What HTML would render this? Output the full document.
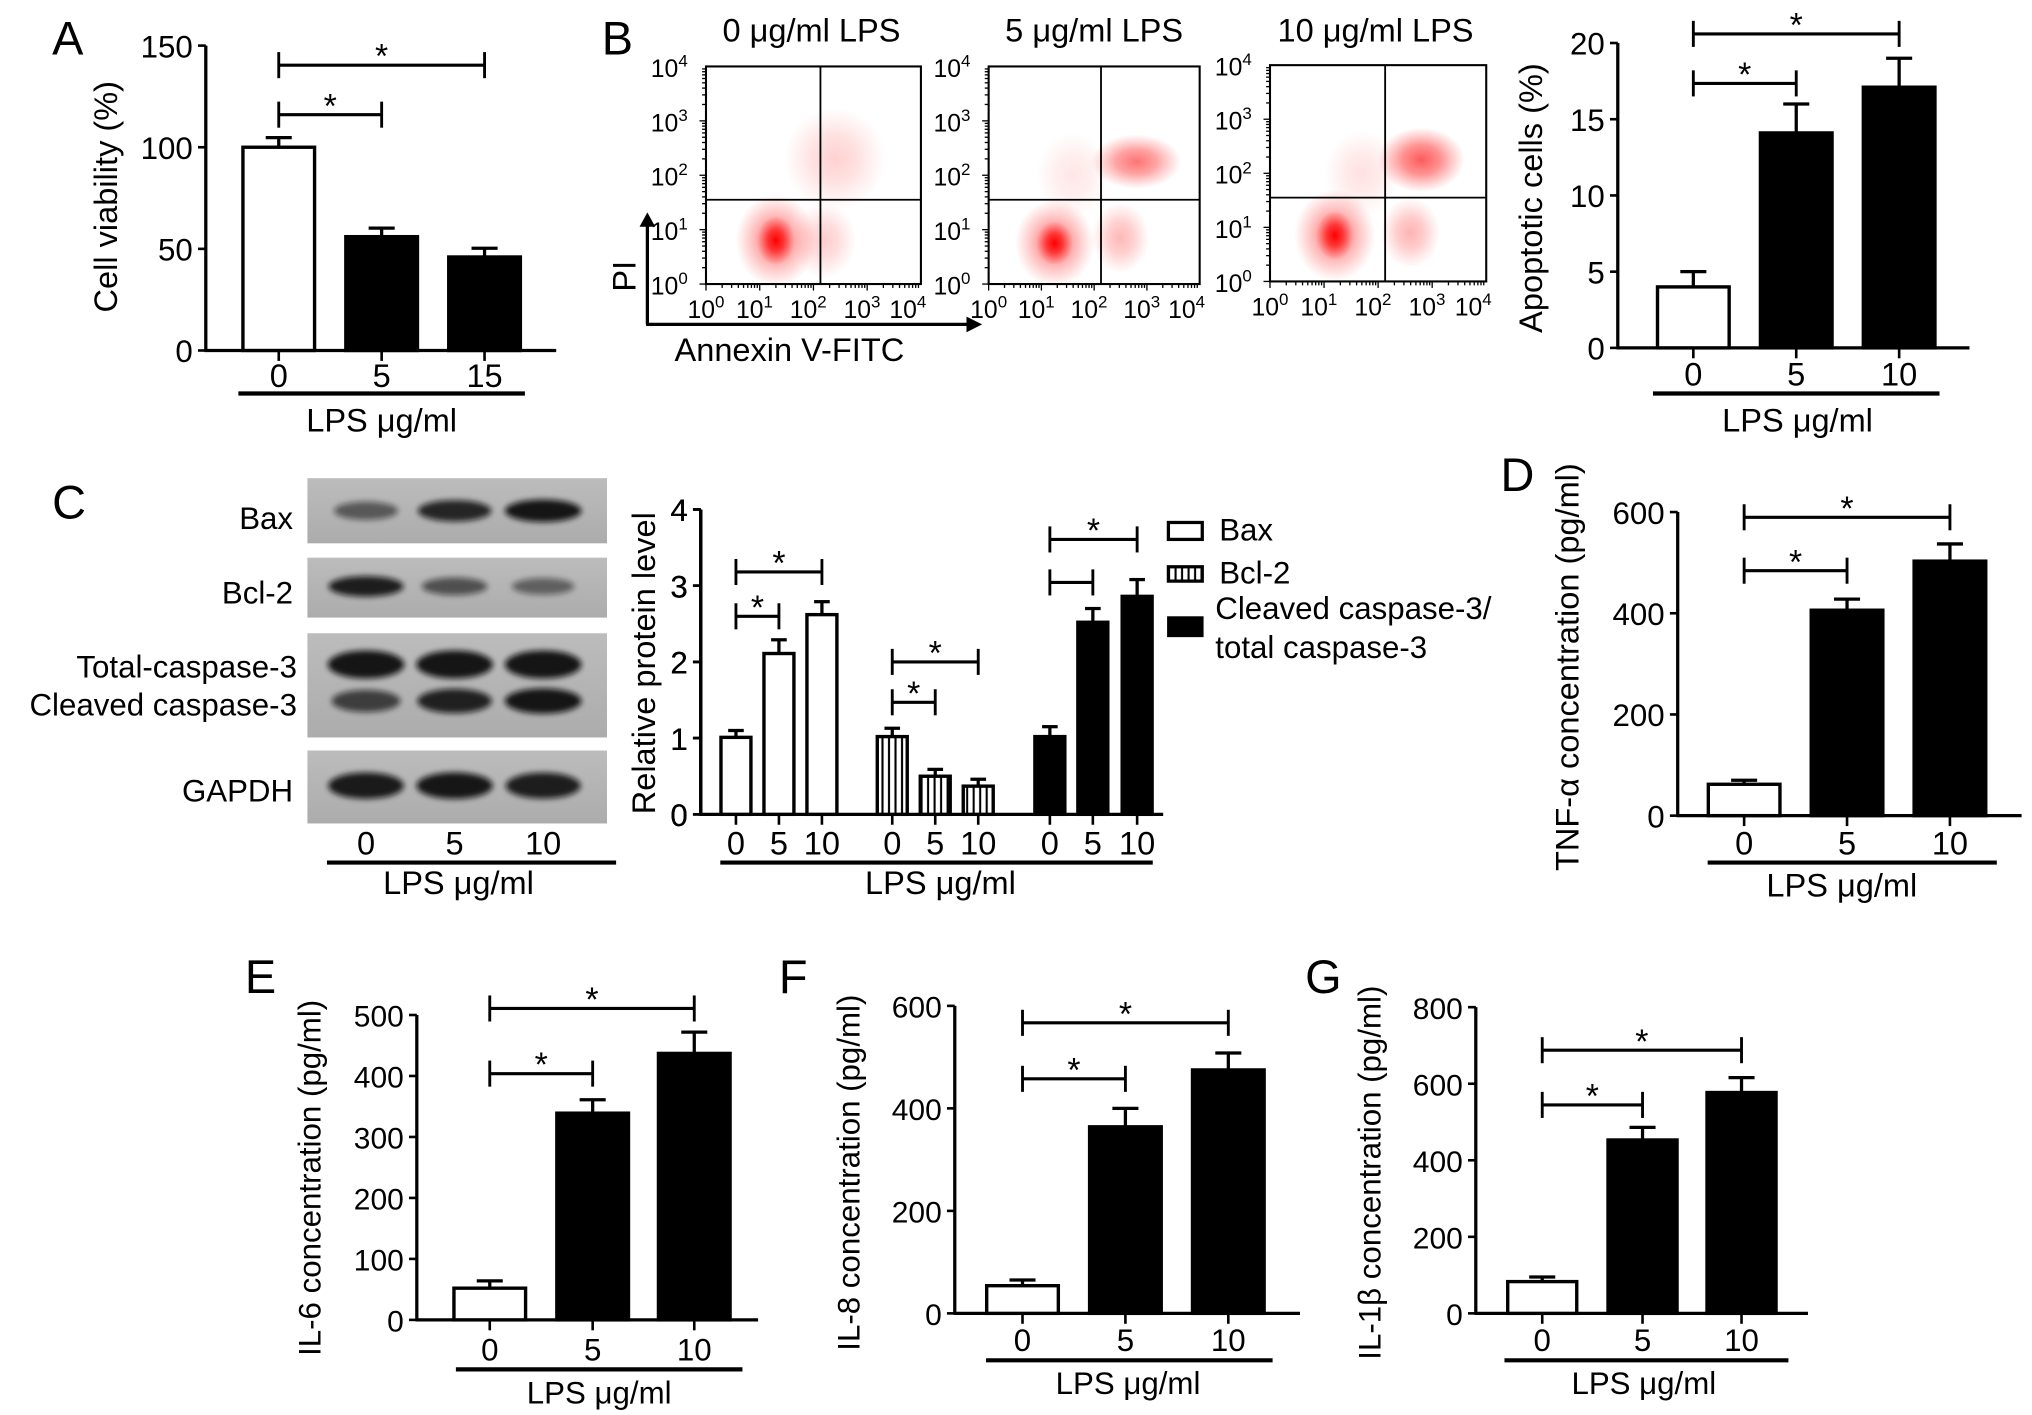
<!DOCTYPE html>
<html><head><meta charset="utf-8"><style>
html,body{margin:0;padding:0;background:#fff;}
svg{display:block;font-family:"Liberation Sans",Arial,sans-serif;}
</style></head><body>
<svg id="fig" width="2032" height="1415" viewBox="0 0 1560 1086" preserveAspectRatio="none" xmlns="http://www.w3.org/2000/svg">
<defs>
<radialGradient id="rg" cx="50%" cy="50%" r="50%">
<stop offset="0%" stop-color="#ff0000" stop-opacity="1"/>
<stop offset="45%" stop-color="#ff1010" stop-opacity="0.7"/>
<stop offset="100%" stop-color="#ff3030" stop-opacity="0"/>
</radialGradient>
<filter id="blur2" x="-30%" y="-60%" width="160%" height="220%"><feGaussianBlur stdDeviation="2.2"/></filter>
<pattern id="hatch" width="5" height="10" patternUnits="userSpaceOnUse"><rect width="5" height="10" fill="#fff"/><line x1="2.5" y1="0" x2="2.5" y2="10" stroke="#000" stroke-width="1.6"/></pattern>
<linearGradient id="blotbg" x1="0" y1="0" x2="0" y2="1"><stop offset="0" stop-color="#bcbcbc"/><stop offset="1" stop-color="#acacac"/></linearGradient>
</defs>
<g font-size="36">
<text x="40" y="42">A</text>
<text x="462" y="42">B</text>
<text x="40" y="398">C</text>
<text x="1152" y="377">D</text>
<text x="188" y="762">E</text>
<text x="598" y="762">F</text>
<text x="1002" y="762">G</text>
</g>
<g font-size="25" text-anchor="middle">
<text x="623" y="32">0 μg/ml LPS</text>
<text x="840" y="32">5 μg/ml LPS</text>
<text x="1056" y="32">10 μg/ml LPS</text>
</g>
<g>
<line x1="497" y1="249" x2="497" y2="172" stroke="#000" stroke-width="2.5"/>
<polygon points="491,174 503,174 497,163" fill="#000"/>
<line x1="496" y1="249" x2="744" y2="249" stroke="#000" stroke-width="2.5"/>
<polygon points="742,243 742,255 754,249" fill="#000"/>
<text x="488" y="212" font-size="25" text-anchor="middle" transform="rotate(-90 488 212)">PI</text>
<text x="606" y="277" font-size="25" text-anchor="middle">Annexin V-FITC</text>
</g>
<g font-size="24" text-anchor="end">
<text x="225" y="406">Bax</text>
<text x="225" y="463">Bcl-2</text>
<text x="228" y="520">Total-caspase-3</text>
<text x="228" y="549">Cleaved caspase-3</text>
<text x="225" y="615">GAPDH</text>
</g>
<g font-size="24">
<rect x="897" y="401" width="26" height="13" fill="#fff" stroke="#000" stroke-width="2.5"/>
<text x="936" y="415">Bax</text>
<rect x="897" y="435" width="26" height="11" fill="url(#hatch)" stroke="#000" stroke-width="2.5"/>
<text x="936" y="448">Bcl-2</text>
<rect x="897" y="474" width="26" height="14" fill="#000" stroke="#000" stroke-width="2"/>
<text x="933" y="475">Cleaved caspase-3/</text>
<text x="933" y="505">total caspase-3</text>
</g>
<g id="dyn"></g>
</svg>
<script>
// ===== Data =====
const aCats = ['0','5','15'];
const aVals = [100, 56, 46];
const aErrs = [4.7, 4.2, 4.3];
const bCats = ['0','5','10'];
const bVals = [4.0, 14.1, 17.1];
const bErrs = [1.0, 1.9, 1.9];
const cCats = ['0','5','10'];
const cBax = [1.01, 2.11, 2.62];
const cBaxErr = [0.09, 0.18, 0.17];
const cBcl2 = [1.02, 0.50, 0.37];
const cBcl2Err = [0.11, 0.09, 0.09];
const cCasp = [1.02, 2.52, 2.86];
const cCaspErr = [0.13, 0.18, 0.22];
const dCats = ['0','5','10'];
const dVals = [62, 406, 503];
const dErrs = [8, 22, 34];
const eCats = ['0','5','10'];
const eVals = [52, 339, 437];
const eErrs = [12, 22, 35];
const fCats = ['0','5','10'];
const fVals = [54, 364, 475];
const fErrs = [11, 36, 33];
const gCats = ['0','5','10'];
const gVals = [83, 453, 577];
const gErrs = [12, 33, 39];
const aTicks = [0, 50, 100, 150];
const bTicks = [0, 5, 10, 15, 20];
const cTicks = [0, 1, 2, 3, 4];
const dTicks = [0, 200, 400, 600];
const eTicks = [0, 100, 200, 300, 400, 500];
const fTicks = [0, 200, 400, 600];
const gTicks = [0, 200, 400, 600, 800];
// blot band intensities (lanes 0,5,10)
const baxBand = [0.55, 0.85, 0.95];
const bcl2Band = [0.9, 0.6, 0.5];
const totalBand = [0.95, 0.95, 0.95];
const cleavedBand = [0.7, 0.88, 0.95];
const gapdhBand = [0.92, 0.94, 0.9];
// flow clusters: [logX, logY, spreadX, spreadY, density]
const flow0 = [[1.3,0.8,0.75,0.85,0.5],[1.3,0.8,0.35,0.45,1.0],[2.4,2.3,0.95,0.95,0.18],[2.2,0.8,0.6,0.7,0.2]];
const flow5 = [[1.25,0.75,0.75,0.8,0.5],[1.25,0.75,0.35,0.4,1.0],[2.8,2.25,0.85,0.5,0.55],[2.5,0.85,0.55,0.65,0.28],[1.6,2.0,0.7,0.8,0.1]];
const flow10 = [[1.2,0.85,0.75,0.85,0.5],[1.2,0.85,0.35,0.45,1.0],[2.8,2.25,0.8,0.6,0.65],[2.6,0.9,0.55,0.65,0.3],[1.7,2.0,0.7,0.8,0.12]];

const NS = 'http://www.w3.org/2000/svg';
const root = document.getElementById('dyn');
function mk(tag, attrs, parent) {
  const el = document.createElementNS(NS, tag);
  for (const k in attrs) el.setAttribute(k, attrs[k]);
  (parent || root).appendChild(el);
  return el;
}

function barPanel(p, cats, vals, errs, ticks, fills, brackets) {
  const g = mk('g', {});
  
  
  const maxV = ticks[ticks.length - 1];
  const ys = v => p.y0 - (v / maxV) * (p.y0 - p.yTop);
  const yl = mk('line', {x1: p.ax, y1: p.y0, x2: p.ax, y2: p.yTop, stroke: '#000', 'stroke-width': 2.5}, g);
  
  
  ticks.forEach(t => {
    const tk = mk('line', {x1: p.ax - 6, y1: ys(t), x2: p.ax, y2: ys(t), stroke: '#000', 'stroke-width': 2}, g);
    
    
    const tl = mk('text', {x: p.ax - 10, y: ys(t) + 9, 'font-size': p.fs, 'text-anchor': 'end'}, g);
    tl.textContent = String(t);
    
    
  });
  const xl = mk('line', {x1: p.ax - 1, y1: p.y0, x2: p.xEnd, y2: p.y0, stroke: '#000', 'stroke-width': 2.5}, g);
  
  
  vals.forEach((v, i) => {
    const cx = p.cx[i];
    const top = ys(v);
    const et = ys(v + errs[i]);
    const el = mk('line', {x1: cx, y1: top, x2: cx, y2: et, stroke: '#000', 'stroke-width': 2.5}, g);
    
    
    const cap = mk('line', {x1: cx - p.cap, y1: et, x2: cx + p.cap, y2: et, stroke: '#000', 'stroke-width': 2.5}, g);
    
    
    const r = mk('rect', {x: cx - p.bw / 2, y: top, width: p.bw, height: p.y0 - top, fill: fills[i], stroke: '#000', 'stroke-width': 2.6}, g);
    
    
    const xt = mk('line', {x1: cx, y1: p.y0, x2: cx, y2: p.y0 + 8, stroke: '#000', 'stroke-width': 2}, g);
    
    
    const lab = mk('text', {x: cx, y: p.catBase, 'font-size': p.fs + 1, 'text-anchor': 'middle'}, g);
    lab.textContent = cats[i];
    
    
  });
  if (p.ul) {
    const ul = mk('line', {x1: p.ul[0], y1: p.ul[2], x2: p.ul[1], y2: p.ul[2], stroke: '#000', 'stroke-width': 3.2}, g);
    
    
    const lt = mk('text', {x: p.lpsX, y: p.lpsBase, 'font-size': p.fs + 1, 'text-anchor': 'middle'}, g);
    lt.textContent = 'LPS μg/ml';
    
    
  }
  if (p.title) {
    const tt = mk('text', {x: p.tx, y: p.ty, 'font-size': p.fs + 1, 'text-anchor': 'middle', transform: 'rotate(-90 ' + p.tx + ' ' + p.ty + ')'}, g);
    tt.textContent = p.title;
    
    
  }
  (brackets || []).forEach(b => drawBracket(g, p.cx[b[0]], p.cx[b[1]], b[2], b[3]));
  return ys;
}
function drawBracket(g, x1, x2, y, star) {
  const h = mk('line', {x1: x1, y1: y, x2: x2, y2: y, stroke: '#000', 'stroke-width': 2.4}, g);
  
  
  const l = mk('line', {x1: x1, y1: y - 10, x2: x1, y2: y + 10, stroke: '#000', 'stroke-width': 2.2}, g);
  
  
  const r = mk('line', {x1: x2, y1: y - 10, x2: x2, y2: y + 10, stroke: '#000', 'stroke-width': 2.2}, g);
  
  
  if (star) {
    const s = mk('text', {x: (x1 + x2) / 2, y: y + 2, 'font-size': 26, 'text-anchor': 'middle'}, g);
    s.textContent = '*';
    
    
  }
}

// Panel A
barPanel({name: 'panel-a-viability', ax: 158, y0: 269, yTop: 35, xEnd: 427, cx: [214, 293, 372], bw: 55, cap: 10, fs: 24,
  catBase: 297, ul: [183, 403, 302], lpsX: 293, lpsBase: 331, title: 'Cell viability (%)', tx: 90, ty: 151},
  aCats, aVals, aErrs, aTicks, ['#fff', '#000', '#000'], [[0, 1, 88, true], [0, 2, 50, true]]);
// Panel B bar
barPanel({name: 'panel-b-apoptosis', ax: 1242, y0: 267, yTop: 33, xEnd: 1512, cx: [1300, 1379, 1458], bw: 55, cap: 10, fs: 24,
  catBase: 296, ul: [1269, 1489, 302], lpsX: 1380, lpsBase: 331, title: 'Apoptotic cells (%)', tx: 1184, ty: 152},
  bCats, bVals, bErrs, bTicks, ['#fff', '#000', '#000'], [[0, 1, 64, true], [0, 2, 26, true]]);
// Panel D
barPanel({name: 'panel-d-tnf', ax: 1288, y0: 626, yTop: 393, xEnd: 1552, cx: [1339, 1418, 1497], bw: 55, cap: 10, fs: 24,
  catBase: 656, ul: [1311, 1533, 662], lpsX: 1414, lpsBase: 688, title: 'TNF-α concentration (pg/ml)', tx: 1212, ty: 512},
  dCats, dVals, dErrs, dTicks, ['#fff', '#000', '#000'], [[0, 1, 438, true], [0, 2, 397, true]]);
// Panel E
barPanel({name: 'panel-e-il6', ax: 320, y0: 1013, yTop: 779, xEnd: 582, cx: [376, 455, 533], bw: 55, cap: 10, fs: 23,
  catBase: 1044, ul: [350, 570, 1051], lpsX: 460, lpsBase: 1077, title: 'IL-6 concentration (pg/ml)', tx: 246, ty: 904},
  eCats, eVals, eErrs, eTicks, ['#fff', '#000', '#000'], [[0, 1, 824, true], [0, 2, 774, true]]);
// Panel F
barPanel({name: 'panel-f-il8', ax: 733, y0: 1008, yTop: 772, xEnd: 998, cx: [785, 864, 943], bw: 55, cap: 10, fs: 23,
  catBase: 1037, ul: [757, 977, 1044], lpsX: 866, lpsBase: 1070, title: 'IL-8 concentration (pg/ml)', tx: 660, ty: 900},
  fCats, fVals, fErrs, fTicks, ['#fff', '#000', '#000'], [[0, 1, 828, true], [0, 2, 785, true]]);
// Panel G
barPanel({name: 'panel-g-il1b', ax: 1133, y0: 1008, yTop: 773, xEnd: 1388, cx: [1184, 1261, 1337], bw: 53, cap: 10, fs: 23,
  catBase: 1037, ul: [1155, 1373, 1044], lpsX: 1262, lpsBase: 1070, title: 'IL-1β concentration (pg/ml)', tx: 1060, ty: 900},
  gCats, gVals, gErrs, gTicks, ['#fff', '#000', '#000'], [[0, 1, 848, true], [0, 2, 806, true]]);

// Panel C bar chart (3 groups)
(function () {
  const base = {ax: 538, y0: 625, yTop: 391, fs: 24, bw: 23, cap: 6, catBase: 656};
  barPanel(Object.assign({name: 'panel-c-bax-bars', xEnd: 893, cx: [565, 598, 631], ul: [553, 885, 662], lpsX: 722, lpsBase: 686,
    title: 'Relative protein level', tx: 503, ty: 509}, base),
    cCats, cBax, cBaxErr, cTicks, ['#fff', '#fff', '#fff'], [[0, 1, 473, true], [0, 2, 439, true]]);
  barPanel(Object.assign({name: 'panel-c-bcl2-bars', xEnd: 538, cx: [685, 718, 751]}, base),
    cCats, cBcl2, cBcl2Err, cTicks, ['url(#hatch)', 'url(#hatch)', 'url(#hatch)'], [[0, 1, 539, true], [0, 2, 508, true]]);
  barPanel(Object.assign({name: 'panel-c-casp3-bars', xEnd: 538, cx: [806, 839, 873]}, base),
    cCats, cCasp, cCaspErr, cTicks, ['#000', '#000', '#000'], [[0, 1, 447, false], [0, 2, 414, true]]);
})();

// Western blots
(function () {
  const lanes = [281, 349, 417];
  const blots = [
    {name: 'blot-bax', y1: 367, y2: 417, bands: [[baxBand, 392, 8]]},
    {name: 'blot-bcl2', y1: 428, y2: 474, bands: [[bcl2Band, 450, 7.5]]},
    {name: 'blot-caspase3', y1: 486, y2: 566, bands: [[totalBand, 510, 10], [cleavedBand, 538, 9]]},
    {name: 'blot-gapdh', y1: 576, y2: 632, bands: [[gapdhBand, 603, 9.5]]}
  ];
  blots.forEach(b => {
    const g = mk('g', {});
    
    
    const bg = mk('rect', {x: 236, y: b.y1, width: 230, height: b.y2 - b.y1, fill: 'url(#blotbg)'}, g);
    
    
    b.bands.forEach(bd => {
      bd[0].forEach((inten, i) => {
        const e = mk('ellipse', {cx: lanes[i], cy: bd[1], rx: 18 + 12 * inten, ry: bd[2] * (0.6 + 0.5 * inten), fill: '#111', opacity: inten, filter: 'url(#blur2)'}, g);
        
        
      });
    });
  });
  const lg = mk('g', {});
  
  
  cCats.forEach((c, i) => {
    const t = mk('text', {x: lanes[i], y: 656, 'font-size': 25, 'text-anchor': 'middle'}, lg);
    t.textContent = c;
    
    
  });
  const ul = mk('line', {x1: 251, y1: 662, x2: 473, y2: 662, stroke: '#000', 'stroke-width': 3.2}, lg);
  
  
  const lt = mk('text', {x: 352, y: 686, 'font-size': 25, 'text-anchor': 'middle'}, lg);
  lt.textContent = 'LPS μg/ml';
  
  
})();

// Flow cytometry plots
function flowPlot(name, x1, y1, x2, y2, clusters) {
  const g = mk('g', {});
  
  
  const sx = v => x1 + (v / 4) * (x2 - x1);
  const sy = v => y2 - (v / 4) * (y2 - y1);
  const cid = 'clip-' + name;
  const cp = mk('clipPath', {id: cid}, g);
  mk('rect', {x: x1, y: y1, width: x2 - x1, height: y2 - y1}, cp);
  const cg = mk('g', {'clip-path': 'url(#' + cid + ')'}, g);
  clusters.forEach(c => {
    const e = mk('ellipse', {cx: sx(c[0]), cy: sy(c[1]), rx: c[2] / 4 * (x2 - x1), ry: c[3] / 4 * (y2 - y1), fill: 'url(#rg)', opacity: c[4]}, cg);
    
    
  });
  const fr = mk('rect', {x: x1, y: y1, width: x2 - x1, height: y2 - y1, fill: 'none', stroke: '#000', 'stroke-width': 1.6}, g);
  
  
  const gx = sx(2.13), gy = sy(1.55);
  const vl = mk('line', {x1: gx, y1: y1, x2: gx, y2: y2, stroke: '#000', 'stroke-width': 1.4}, g);
  
  
  const hl = mk('line', {x1: x1, y1: gy, x2: x2, y2: gy, stroke: '#000', 'stroke-width': 1.4}, g);
  
  
  for (let d = 0; d < 4; d++) {
    for (let m = 1; m <= 9; m++) {
      const v = d + Math.log10(m);
      const len = m === 1 ? 5 : 3;
      const tx = mk('line', {x1: sx(v), y1: y2, x2: sx(v), y2: y2 + len, stroke: '#000', 'stroke-width': 1}, g);
      
      
      const ty = mk('line', {x1: x1 - len, y1: sy(v), x2: x1, y2: sy(v), stroke: '#000', 'stroke-width': 1}, g);
      
      
    }
  }
  for (let k = 0; k <= 4; k++) {
    const xt = mk('text', {x: Math.min(Math.max(sx(k), x1 + 4), x2 - 6) - 4, y: y2 + 26, 'font-size': 19, 'text-anchor': 'middle'}, g);
    xt.textContent = '10';
    const sup = mk('tspan', {dy: -8, 'font-size': 13}, xt);
    sup.textContent = String(k);
    
    
    const yt = mk('text', {x: x1 - 14, y: sy(k) + 8, 'font-size': 19, 'text-anchor': 'end'}, g);
    yt.textContent = '10';
    const sup2 = mk('tspan', {dy: -8, 'font-size': 13}, yt);
    sup2.textContent = String(k);
    
    
  }
}
flowPlot('flow-plot-0', 542, 51, 707, 218, flow0);
flowPlot('flow-plot-5', 759, 51, 921, 218, flow5);
flowPlot('flow-plot-10', 975, 50, 1141, 216, flow10);
</script>
</body></html>
